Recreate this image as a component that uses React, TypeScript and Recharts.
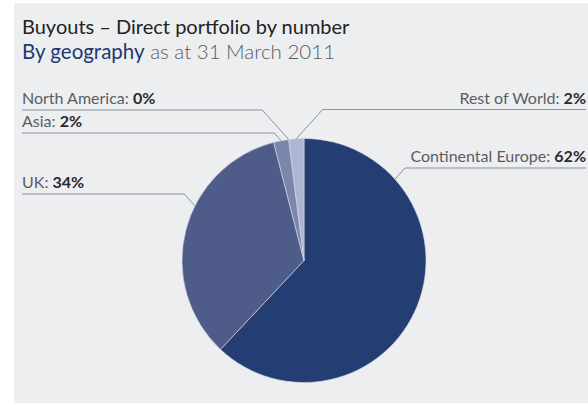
import { Cell, Pie, PieChart } from 'recharts';

const regions = ['Continental Europe', 'UK', 'Asia', 'North America', 'Rest of World'];
const shares = [62, 34, 2, 0, 2];
const sliceColors = ['#243d73', '#4f5c89', '#7b86ab', '#9aa3c4', '#adb5d3'];

const data = regions.map((name, i) => ({ name, value: shares[i] }));

// where each leader line sits: side, y of the horizontal rule, point along the slice
const labelLayout: Record<string, { side: 'left' | 'right'; lineY: number; at: number }> = {
  'Continental Europe': { side: 'right', lineY: 168, at: 0.216 },
  UK: { side: 'left', lineY: 194, at: 0.6 },
  Asia: { side: 'left', lineY: 133, at: 0.5 },
  'North America': { side: 'left', lineY: 110, at: 0.5 },
  'Rest of World': { side: 'right', lineY: 109.5, at: 0.5 },
};

const FONT = 'Lato, "Noto Sans", sans-serif';
const RAD = Math.PI / 180;

function renderLabel(props: any) {
  const { cx, cy, outerRadius, startAngle, endAngle, name, value } = props;
  const lay = labelLayout[name];
  if (!lay) return null;
  const angle = startAngle + (endAngle - startAngle) * lay.at;
  const ax = cx + outerRadius * Math.cos(-angle * RAD);
  const ay = cy + outerRadius * Math.sin(-angle * RAD);
  const dir = lay.side === 'left' ? -1 : 1;
  const ex = ax + dir * (ay - lay.lineY) * 0.9;
  const edge = lay.side === 'left' ? 22 : 586;
  return (
    <g key={name}>
      <polyline
        points={`${ax},${ay} ${ex},${lay.lineY} ${edge},${lay.lineY}`}
        fill='none'
        stroke='#8b919b'
        strokeWidth={1}
      />
      <text
        x={edge}
        y={lay.lineY - 6}
        textAnchor={lay.side === 'left' ? 'start' : 'end'}
        fontFamily={FONT}
        fontSize={16}
        fill='#5b5d62'
      >
        {name}: <tspan fontWeight={700} fill='#2a2a2e'>{value}%</tspan>
      </text>
    </g>
  );
}

export default function App() {
  return (
    <div style={{ position: 'absolute', left: 0, top: 0, width: 588, height: 403, background: '#fff' }}>
      <div
        style={{
          position: 'absolute',
          left: 14,
          top: 3,
          width: 574,
          height: 400,
          background: '#edeef0',
        }}
      />
      <svg style={{ position: 'absolute', left: 0, top: 0 }} width={588} height={70}>
        <text x={22} y={34} fontFamily={FONT} fontSize={20} fill='#222'>
          Buyouts – Direct portfolio by number
        </text>
        <text x={22} y={58.5} fontFamily={FONT} fontSize={20.5}>
          <tspan fill='#1d3870'>By geography</tspan>
          <tspan fill='#5a5c60' fontWeight={300}> as at 31 March 2011</tspan>
        </text>
      </svg>
      <div style={{ position: 'absolute', left: 0, top: 0 }}>
        <PieChart width={588} height={403} margin={{ top: 0, right: 0, bottom: 0, left: 0 }}>
          <Pie
            data={data}
            dataKey='value'
            nameKey='name'
            cx={304}
            cy={260.5}
            outerRadius={122}
            startAngle={90}
            endAngle={-270}
            stroke='#d9dce5'
            strokeWidth={0.6}
            labelLine={false}
            label={renderLabel}
            isAnimationActive={false}
          >
            {data.map((d, i) => (
              <Cell key={d.name} fill={sliceColors[i]} />
            ))}
          </Pie>
        </PieChart>
      </div>
    </div>
  );
}
